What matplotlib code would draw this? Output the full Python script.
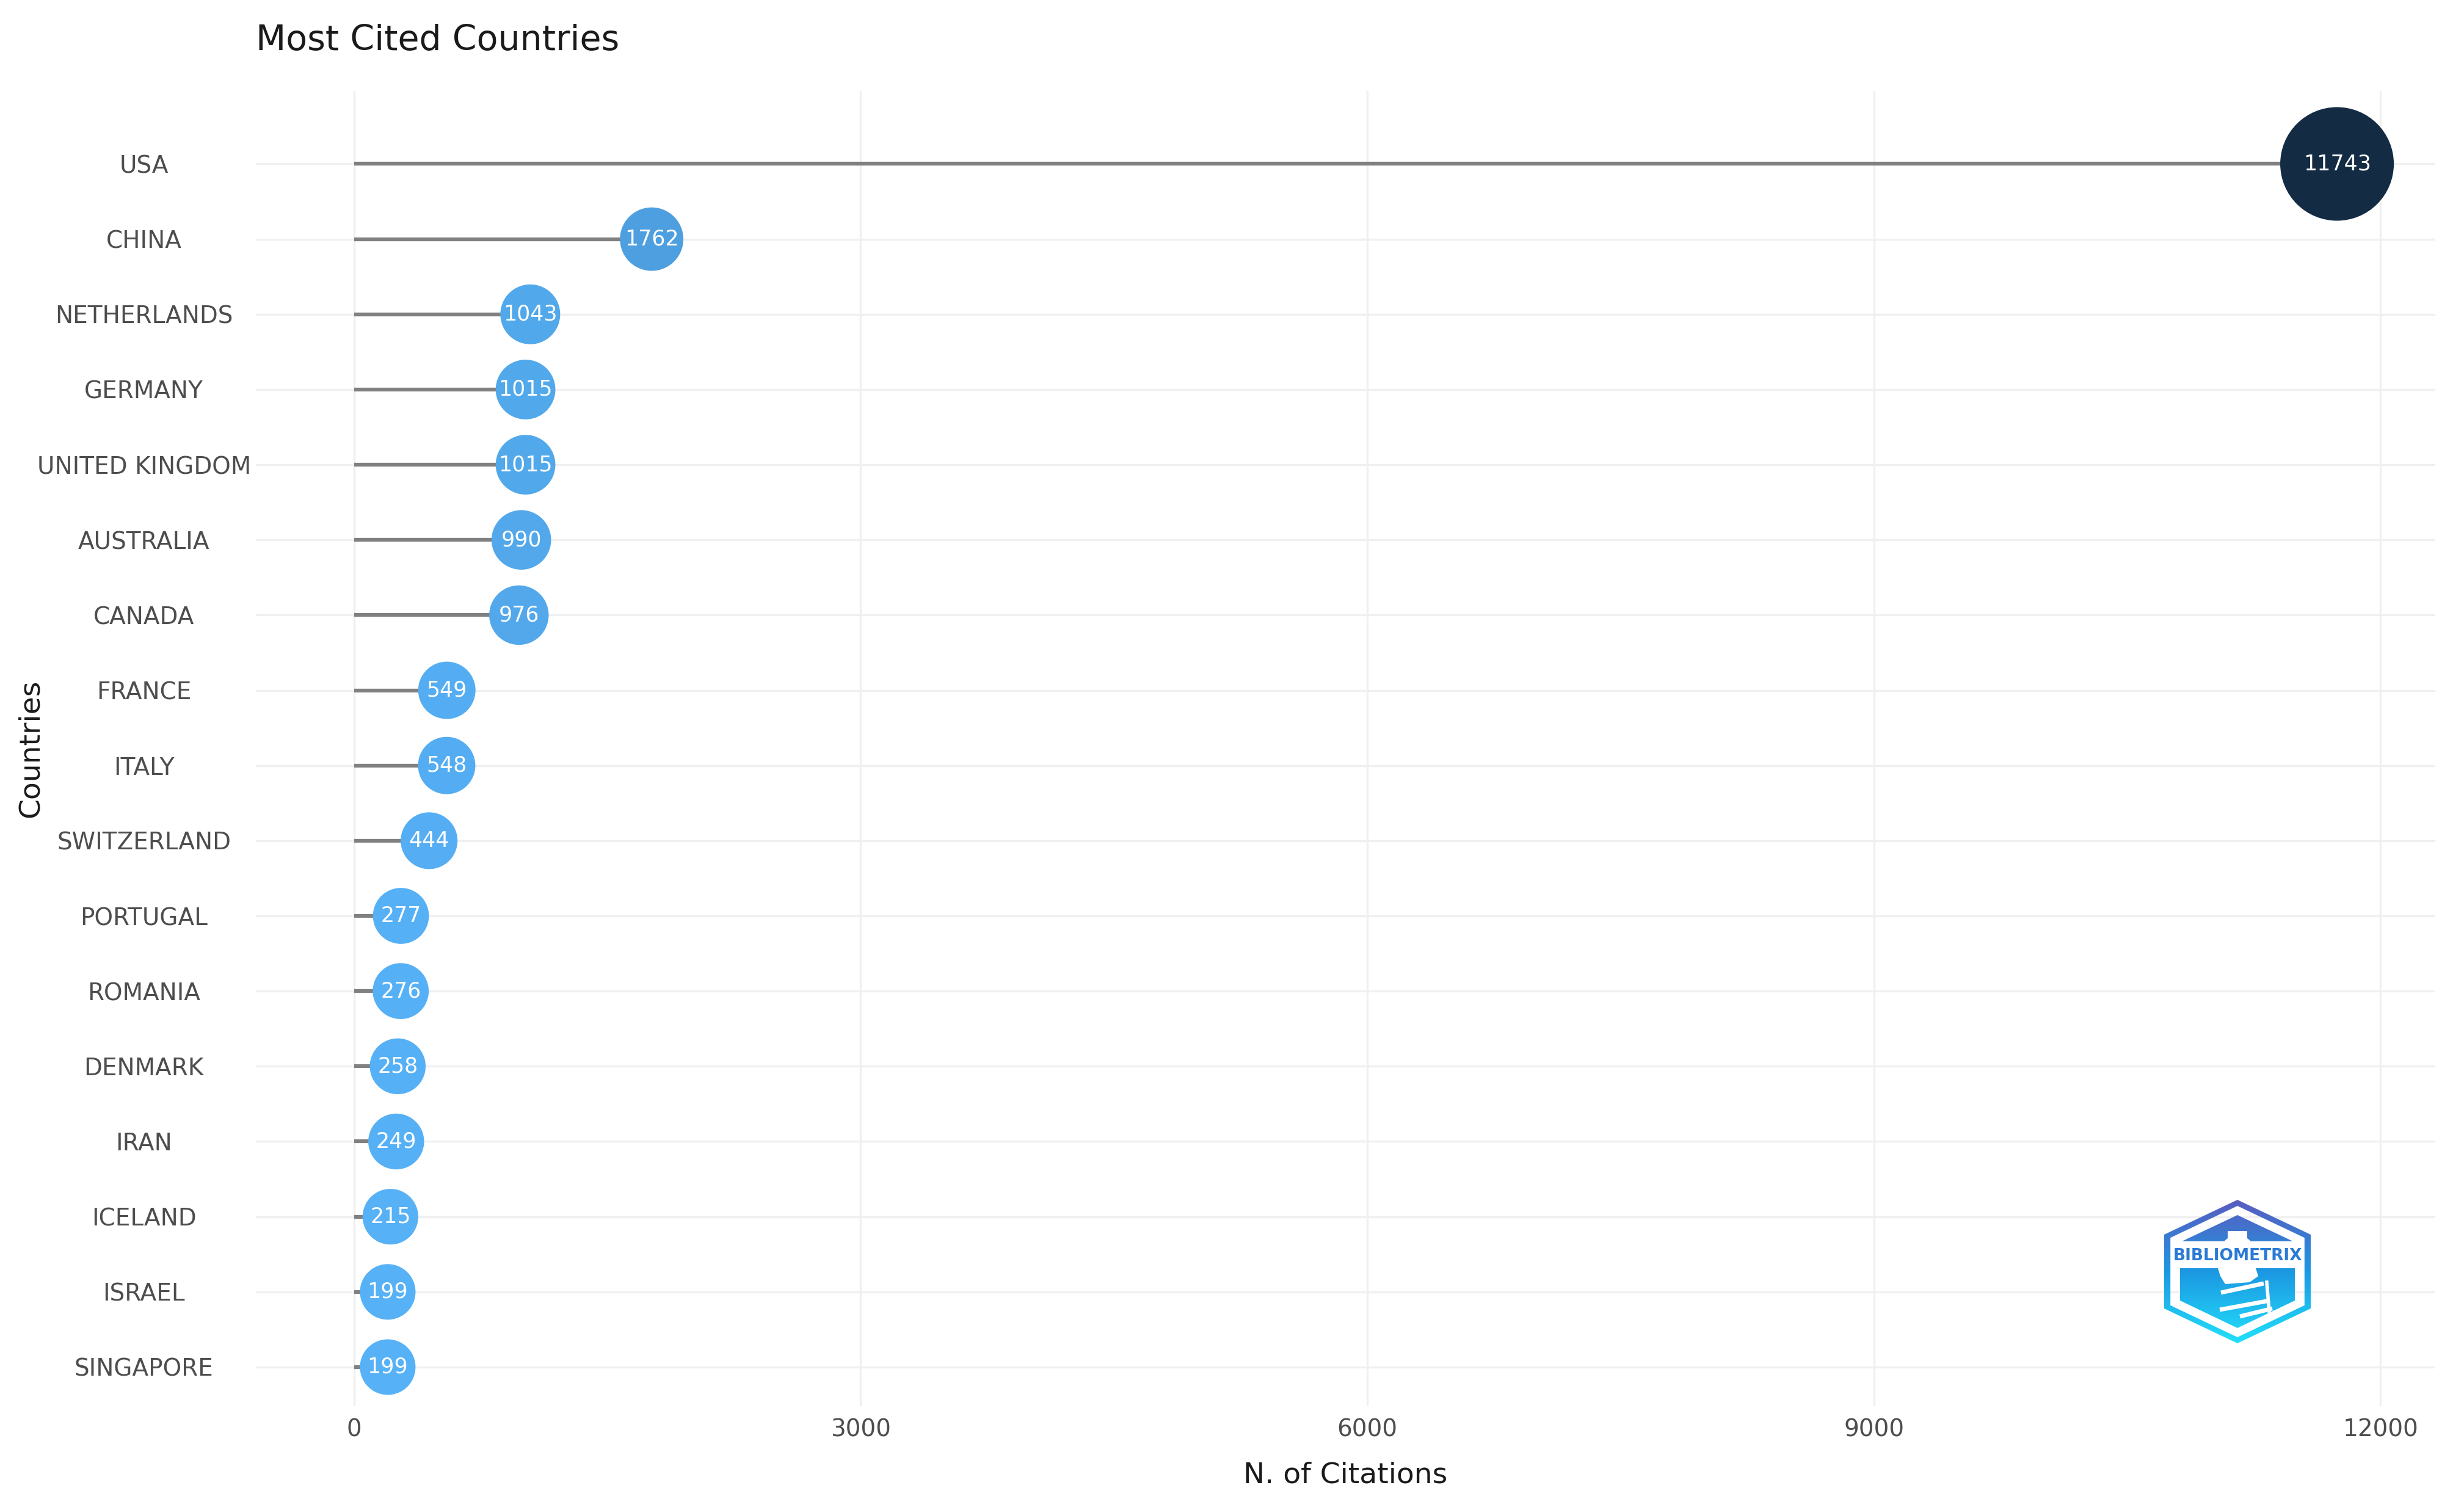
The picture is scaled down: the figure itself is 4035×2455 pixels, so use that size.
import numpy as np
import matplotlib
matplotlib.use("Agg")
import matplotlib.pyplot as plt
from matplotlib.colors import LinearSegmentedColormap
from matplotlib.patches import Polygon
from matplotlib.path import Path

# ---------------- data ----------------
countries = ["USA", "CHINA", "NETHERLANDS", "GERMANY", "UNITED KINGDOM", "AUSTRALIA",
             "CANADA", "FRANCE", "ITALY", "SWITZERLAND", "PORTUGAL", "ROMANIA",
             "DENMARK", "IRAN", "ICELAND", "ISRAEL", "SINGAPORE"]
citations = [11743, 1762, 1043, 1015, 1015, 990, 976, 549, 548, 444, 277, 276,
             258, 249, 215, 199, 199]
x_ticks = [0, 3000, 6000, 9000, 12000]
title = "Most Cited Countries"
xlabel = "N. of Citations"
ylabel = "Countries"

# ---------------- figure ----------------
W, H, DPI = 4035, 2455, 100
fig = plt.figure(figsize=(W / DPI, H / DPI), dpi=DPI)
fig.patch.set_facecolor("white")


def px_axes(x0, y0, x1, y1):
    return fig.add_axes([x0 / W, 1 - y1 / H, (x1 - x0) / W, (y1 - y0) / H])


ax = px_axes(419, 149, 3988, 2303)

n = len(countries)
ypos = np.arange(n)[::-1]
vals = np.array(citations)
t = (vals - vals.min()) / (vals.max() - vals.min())
cmap = LinearSegmentedColormap.from_list("bx", ["#56B1F7", "#132B43"])
colors = cmap(t)
diam_px = 91 + 95 * t
sizes = (diam_px * 72 / DPI) ** 2

ax.hlines(ypos, 0, vals, color="#808080", lw=4.5, zorder=2)
ax.scatter(vals, ypos, s=sizes, c=colors, linewidths=0, zorder=3)
for v, y in zip(vals, ypos):
    ax.text(v, y, str(v), color="white", ha="center", va="center",
            fontsize=25, zorder=4)

ax.set_xlim(-582, 12325)
ax.set_ylim(-0.52, n - 1 + 0.97)
ax.set_xticks(x_ticks)
ax.set_yticks(ypos)
ax.set_yticklabels(countries)
ax.grid(True, color="#F0F0F0", lw=2.4)
ax.set_axisbelow(True)
for sp in ax.spines.values():
    sp.set_visible(False)
ax.tick_params(length=0)
ax.tick_params(axis="y", pad=132, labelsize=28, labelcolor="#4D4D4D")
for lab in ax.get_yticklabels():
    lab.set_horizontalalignment("center")
ax.tick_params(axis="x", pad=14, labelsize=28, labelcolor="#4D4D4D")

ax.set_title(title, loc="left", fontsize=41, pad=48, color="#1A1A1A")
ax.set_xlabel(xlabel, fontsize=34, color="#1A1A1A")
ax.xaxis.set_label_coords(0.5, -0.042)
ax.set_ylabel(ylabel, fontsize=34, color="#1A1A1A")
ax.yaxis.set_label_coords(-0.097, 0.5)

# ---------------- logo ----------------
lax = px_axes(3544, 1965, 3784, 2200)
lax.set_xlim(0, 240)
lax.set_ylim(0, 235)
lax.axis("off")

cx, cy = 120, 117.5
outer = np.array([(120, 235), (0, 178), (0, 57), (120, 0), (240, 57), (240, 178)], float)


def scaled(v, f):
    return np.column_stack([cx + (v[:, 0] - cx) * f, cy + (v[:, 1] - cy) * f])


def poly(v):
    v = list(map(tuple, v)) + [tuple(v[0])]
    return Path(v, closed=True)


inner = scaled(outer, 0.915)[::-1]
roof = np.array([(120, 210), (29, 167), (211, 167)])[::-1]
lower = np.array([(26, 123), (26, 70), (120, 25), (214, 70), (214, 123)])
clip = Path.make_compound_path(poly(outer), poly(inner), poly(roof), poly(lower))

gcmap = LinearSegmentedColormap.from_list("logo", ["#22E0FA", "#1C98E2", "#5A5CC0"])
grad = np.linspace(0, 1, 256).reshape(-1, 1)
im = lax.imshow(grad, cmap=gcmap, extent=(0, 240, 0, 235), origin="lower",
                aspect="auto", interpolation="bilinear")
im.set_clip_path(clip, transform=lax.transData)

lax.add_patch(Polygon([(104, 184), (136, 184), (136, 172), (141, 168), (141, 153),
                       (99, 153), (99, 168), (104, 172)], closed=True,
                      facecolor="white", edgecolor="none", zorder=3))
lax.text(120, 143, "BIBLIOMETRIX", ha="center", va="center", fontsize=19,
         fontweight="bold", color="#2A7AD6", zorder=4)
lax.add_patch(Polygon([(88, 123), (150, 123), (154, 110), (140, 100), (100, 97), (92, 110)],
                      closed=True, facecolor="white", edgecolor="none", zorder=3))
for (x0, y0, x1, y1) in [(93, 83, 163, 98), (91, 55, 173, 70), (124, 44, 177, 57)]:
    lax.plot([x0, x1], [y0, y1], color="white", lw=5, solid_capstyle="butt", zorder=3)
lax.plot([168, 172], [100, 52], color="white", lw=4, zorder=3)

fig.savefig("out.png", dpi=DPI, facecolor="white")
